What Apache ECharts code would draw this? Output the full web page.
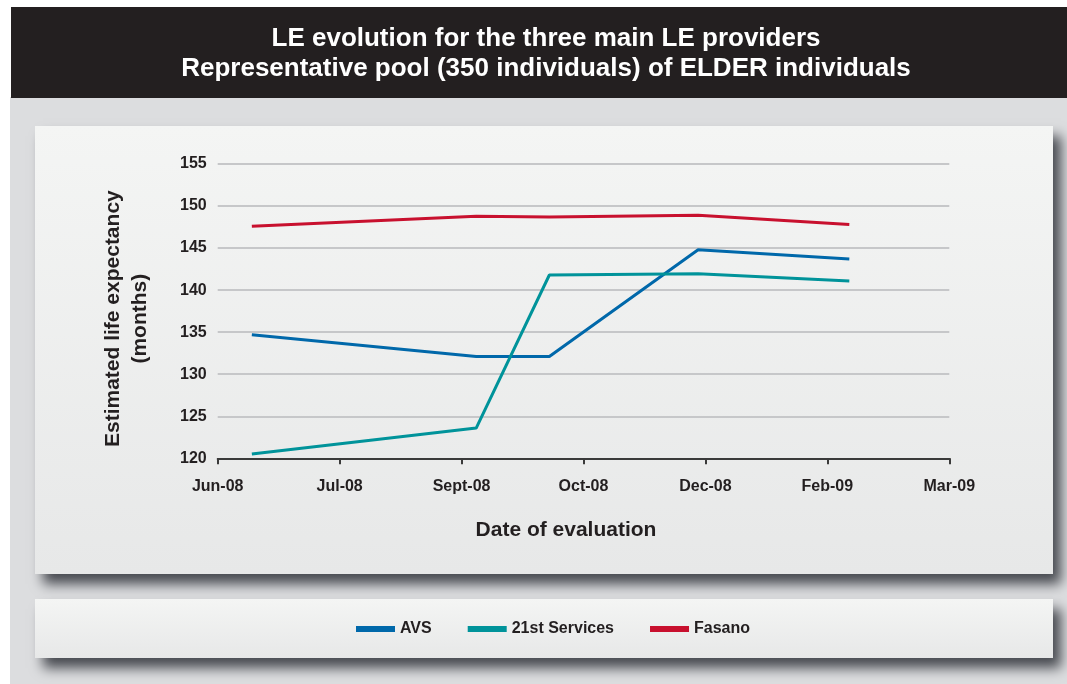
<!DOCTYPE html>
<html>
<head>
<meta charset="utf-8">
<script src="https://cdn.jsdelivr.net/npm/echarts@6/dist/echarts.min.js"></script>
<style>
  html, body { margin: 0; padding: 0; background: #ffffff; }
  #chart { width: 1067px; height: 684px; }
</style>
</head>
<body>
<div id="chart"></div>
<script>
// LE evolution - three main LE providers

const axisStart = '2008-06-01';
const evalDates = ['2008-06-15', '2008-09-15', '2008-10-15', '2008-12-15', '2009-02-15'];
const tickLabels = ['Jun-08', 'Jul-08', 'Sept-08', 'Oct-08', 'Dec-08', 'Feb-09', 'Mar-09'];
const tickDays = 50;

const avs = [134.7, 132.1, 132.1, 144.8, 143.7];
const services21 = [120.5, 123.6, 141.8, 141.95, 141.1];
const fasano = [147.6, 148.8, 148.7, 148.9, 147.8];

const font = '"Liberation Sans", Arial, sans-serif';
const ink = '#231f20';

const dayOf = d => (Date.parse(d) - Date.parse(axisStart)) / 86400000;
const pts = vals => vals.map((v, i) => [dayOf(evalDates[i]), v]);

const chart = echarts.init(document.getElementById('chart'));

const panelShadow = {
	shadowColor: 'rgba(45,48,55,0.85)',
	shadowBlur: 12,
	shadowOffsetX: 8,
	shadowOffsetY: 10
};
const panelFill = new echarts.graphic.LinearGradient(0, 0, 0, 1, [
	{ offset: 0, color: '#f4f5f4' },
	{ offset: 1, color: '#e7e8e8' }
]);

const option = {
	animation: false,
	title: {
		text: 'LE evolution for the three main LE providers\nRepresentative pool (350 individuals) of ELDER individuals',
		left: 541,
		top: 19,
		textAlign: 'center',
		textStyle: {
			color: '#ffffff',
			fontFamily: font,
			fontWeight: 'bold',
			fontSize: 26,
			lineHeight: 30
		}
	},
	graphic: [
		{ type: 'rect', z: -20, shape: { x: 10, y: 97, width: 1057, height: 587 }, style: { fill: '#dcdddf' } },
		{ type: 'rect', z: -20, shape: { x: 11, y: 7, width: 1056, height: 91 }, style: { fill: '#231f20' } },
		{ type: 'rect', z: -10, shape: { x: 35, y: 126, width: 1018, height: 448 }, style: Object.assign({ fill: panelFill }, panelShadow) },
		{ type: 'rect', z: -10, shape: { x: 35, y: 599, width: 1018, height: 59 }, style: Object.assign({ fill: panelFill }, panelShadow) }
	],
	legend: {
		left: 356,
		top: 621,
		padding: 0,
		icon: 'rect',
		itemWidth: 39,
		itemHeight: 6,
		itemGap: 36,
		textStyle: { color: ink, fontFamily: font, fontWeight: 'bold', fontSize: 16 },
		data: ['AVS', '21st Services', 'Fasano']
	},
	grid: {
		left: 217.7,
		right: 117.7,
		top: 164,
		bottom: 225.7
	},
	xAxis: {
		type: 'value',
		min: 0,
		max: tickDays * (tickLabels.length - 1),
		interval: tickDays,
		name: 'Date of evaluation',
		nameLocation: 'middle',
		nameGap: 61,
		nameTextStyle: { color: ink, fontFamily: font, fontWeight: 'bold', fontSize: 21, padding: [0, 35, 0, 0] },
		axisLine: { lineStyle: { color: '#3a3a3a', width: 2 } },
		axisTick: { show: true, length: 6, lineStyle: { color: '#3a3a3a', width: 2 } },
		axisLabel: {
			margin: 20,
			color: ink,
			fontFamily: font,
			fontWeight: 'bold',
			fontSize: 16,
			formatter: v => tickLabels[Math.round(v / tickDays)] || ''
		},
		splitLine: { show: false }
	},
	yAxis: {
		type: 'value',
		min: 120,
		max: 155,
		interval: 5,
		name: 'Estimated life expectancy\n(months)',
		nameLocation: 'middle',
		nameGap: 64,
		nameRotate: 90,
		nameTextStyle: { color: ink, fontFamily: font, fontWeight: 'bold', fontSize: 21, lineHeight: 27, padding: [0, 15, 0, 0] },
		axisLine: { show: false },
		axisTick: { show: false },
		axisLabel: { margin: 11, color: ink, fontFamily: font, fontWeight: 'bold', fontSize: 16 },
		splitLine: { lineStyle: { color: '#c6c7c9', width: 2 } }
	},
	series: [
		{ name: 'AVS', type: 'line', data: pts(avs), showSymbol: false, lineStyle: { width: 3, color: '#0068aa' }, itemStyle: { color: '#0068aa' } },
		{ name: '21st Services', type: 'line', data: pts(services21), showSymbol: false, lineStyle: { width: 3, color: '#00939a' }, itemStyle: { color: '#00939a' } },
		{ name: 'Fasano', type: 'line', data: pts(fasano), showSymbol: false, lineStyle: { width: 3, color: '#c8102e' }, itemStyle: { color: '#c8102e' } }
	]
};

chart.setOption(option);
</script>
</body>
</html>
